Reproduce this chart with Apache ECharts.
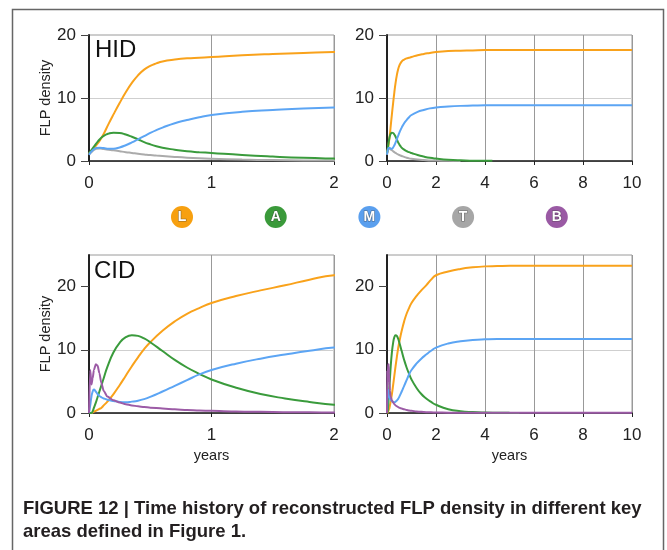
<!DOCTYPE html>
<html>
<head>
<meta charset="utf-8">
<script src="https://cdn.jsdelivr.net/npm/echarts@6/dist/echarts.min.js"></script>
<style>
html,body{margin:0;padding:0;background:#fff;}
#c{width:667px;height:550px;}
</style>
</head>
<body>
<div id="c"></div>
<script>
// ---------- DATA ----------
const seriesNames = ['L', 'A', 'M', 'T', 'B'];
const seriesColors = ['#F9A21B', '#3A9B3C', '#5CA5F4', '#ABABAB', '#9C5BA6'];
const legendColors = ['#F7A010', '#3A9A3A', '#5A9FEE', '#A6A6A6', '#9A5AA4'];

// HID (time in years)
const tHID = [0, 0.03, 0.06, 0.09, 0.12, 0.16, 0.2, 0.25, 0.3, 0.35, 0.4, 0.45, 0.5, 0.55, 0.6, 0.7, 0.8, 0.9, 1.0, 1.25, 1.5, 1.75, 2.0, 2.5, 3, 3.5, 4, 4.3, 5, 6, 7, 8, 9, 10];
const hidL = [1.2, 1.8, 2.5, 3.3, 4.3, 5.9, 7.4, 9.2, 10.9, 12.4, 13.6, 14.5, 15.1, 15.5, 15.8, 16.1, 16.3, 16.4, 16.5, 16.8, 17.0, 17.15, 17.3, 17.45, 17.5, 17.55, 17.6, 17.6, 17.6, 17.6, 17.6, 17.6, 17.6, 17.6];
const hidA = [1.2, 2.0, 2.8, 3.5, 4.0, 4.35, 4.5, 4.45, 4.2, 3.85, 3.45, 3.0, 2.65, 2.35, 2.1, 1.8, 1.55, 1.4, 1.27, 0.95, 0.7, 0.5, 0.38, 0.2, 0.1, 0.05, 0.03, 0.02, null, null, null, null, null, null];
const hidM = [1.0, 1.7, 2.05, 2.1, 2.05, 1.95, 1.95, 2.15, 2.5, 2.95, 3.45, 3.95, 4.45, 4.9, 5.3, 6.0, 6.5, 6.95, 7.3, 7.8, 8.1, 8.35, 8.5, 8.65, 8.75, 8.8, 8.85, 8.85, 8.85, 8.85, 8.85, 8.85, 8.85, 8.85];
const hidT = [1.0, 1.6, 1.95, 2.0, 1.9, 1.8, 1.7, 1.55, 1.4, 1.28, 1.15, 1.05, 0.95, 0.87, 0.8, 0.65, 0.52, 0.42, 0.35, 0.22, 0.14, 0.09, 0.06, 0.03, 0.01, null, null, null, null, null, null, null, null, null];

// CID (time in years)
const tCID = [0, 0.01, 0.02, 0.03, 0.04, 0.055, 0.07, 0.085, 0.1, 0.12, 0.15, 0.2, 0.25, 0.3, 0.35, 0.4, 0.45, 0.5, 0.6, 0.7, 0.8, 0.9, 1.0, 1.2, 1.4, 1.6, 1.8, 2.0, 2.5, 3, 3.5, 4, 4.5, 5, 5.4, 6, 7, 8, 9, 10];
const cidL = [0, 0, 0, 0.1, 0.2, 0.35, 0.5, 0.65, 0.8, 1.2, 1.8, 3.0, 4.4, 5.9, 7.4, 8.8, 10.1, 11.2, 13.0, 14.5, 15.7, 16.6, 17.4, 18.5, 19.4, 20.2, 21.1, 21.8, 22.4, 22.8, 23.05, 23.2, 23.25, 23.3, 23.3, 23.3, 23.3, 23.3, 23.3, 23.3];
const cidA = [0, 0, 0, 0.3, 0.8, 1.6, 2.5, 3.4, 4.3, 5.5, 7.3, 9.6, 11.1, 12.0, 12.3, 12.2, 11.8, 11.2, 9.8, 8.4, 7.2, 6.2, 5.3, 4.0, 3.0, 2.3, 1.75, 1.3, 0.6, 0.28, 0.14, 0.07, 0.04, 0.02, 0.01, null, null, null, null, null];
const cidM = [0, 1.2, 2.6, 3.4, 3.7, 3.4, 3.0, 2.7, 2.5, 2.3, 2.1, 1.9, 1.75, 1.7, 1.8, 1.95, 2.2, 2.55, 3.4, 4.3, 5.2, 6.1, 6.8, 7.8, 8.6, 9.25, 9.85, 10.35, 11.0, 11.35, 11.55, 11.65, 11.7, 11.7, 11.7, 11.7, 11.7, 11.7, 11.7, 11.7];
const cidB = [0, 6.8, 4.5, 5.5, 6.8, 7.7, 7.5, 6.3, 4.8, 3.5, 2.6, 2.0, 1.65, 1.4, 1.2, 1.05, 0.95, 0.85, 0.7, 0.58, 0.48, 0.4, 0.34, 0.25, 0.18, 0.13, 0.1, 0.08, 0.05, 0.03, 0.03, 0.02, 0.02, 0.02, 0.02, 0.02, 0.02, 0.02, 0.02, 0.02];

// axes / ticks
const xMaxShort = 2, xIntShort = 1;
const xMaxLong = 10, xIntLong = 2;
const yMaxHID = 20, yMaxCID = 25;
const yTickLabels = [0, 10, 20];
const regionLabels = ['HID', 'CID'];
const yName = 'FLP density';
const xName = 'years';
const captionLines = [
  'FIGURE 12 | Time history of reconstructed FLP density in different key',
  'areas defined in Figure 1.'
];

// ---------- BUILD ----------
const FONT = '"Liberation Sans", Arial, Helvetica, sans-serif';
function pairs(t, v) {
  const out = [];
  for (let i = 0; i < t.length; i++) if (v[i] !== null && v[i] !== undefined) out.push([t[i], v[i]]);
  return out;
}
const grids = [
  {left: 89, top: 35, width: 245, height: 126},
  {left: 387, top: 35, width: 245, height: 126},
  {left: 89, top: 255, width: 245, height: 158},
  {left: 387, top: 255, width: 245, height: 158}
].map(g => Object.assign({show: true, borderColor: '#9a9a9a', borderWidth: 1, backgroundColor: 'transparent', containLabel: false}, g));

function xAxis(idx, max, interval, showName) {
  return {
    type: 'value', gridIndex: idx, min: 0, max: max, interval: interval,
    name: showName ? xName : '', nameLocation: 'middle', nameGap: 35,
    nameTextStyle: {fontSize: 14.5, color: '#222', fontFamily: FONT},
    axisLine: {show: true, onZero: false, lineStyle: {color: '#222', width: 1.5}},
    axisTick: {show: true, length: 4, lineStyle: {color: '#222'}},
    axisLabel: {fontSize: 17, color: '#222', margin: 14, fontFamily: FONT},
    splitLine: {show: true, lineStyle: {color: '#999', width: 1}}
  };
}
function yAxis(idx, max, showName) {
  return {
    type: 'value', gridIndex: idx, min: 0, max: max, interval: 5,
    name: showName ? yName : '', nameLocation: 'middle', nameGap: 35, nameRotate: 90,
    nameTextStyle: {fontSize: 14.5, color: '#222', fontFamily: FONT},
    axisLine: {show: true, lineStyle: {color: '#222', width: 2}},
    axisTick: {show: true, length: 8, customValues: yTickLabels, lineStyle: {color: '#444'}},
    axisLabel: {fontSize: 17, color: '#222', margin: 13, fontFamily: FONT, customValues: yTickLabels,
      formatter: v => (yTickLabels.indexOf(v) >= 0 ? String(v) : '')},
    splitLine: {show: true, showMaxLine: false, lineStyle: {color: ['#9a9a9a', '#cfcfcf'], width: 1}}
  };
}

const hidData = [hidL, hidA, hidM, hidT];
const hidNames = ['L', 'A', 'M', 'T'];
const cidData = [cidL, cidA, cidM, cidB];
const cidNames = ['L', 'A', 'M', 'B'];

function mkSeries(g, name, t, arr, z) {
  const spiky = name === 'B';
  const s = {
    type: 'line', name: name, xAxisIndex: g, yAxisIndex: g,
    data: pairs(t, arr), showSymbol: false, smooth: spiky ? 0.25 : 0.5,
    lineStyle: {color: seriesColors[seriesNames.indexOf(name)], width: 2},
    itemStyle: {color: seriesColors[seriesNames.indexOf(name)]}, z: z
  };
  if (spiky) s.smoothMonotone = 'x';
  return s;
}

const series = [];
[0, 1].forEach(g => {
  hidData.forEach((arr, k) => series.push(mkSeries(g, hidNames[k], tHID, arr, hidNames[k] === 'T' ? 3 : 4)));
});
[2, 3].forEach(g => {
  cidData.forEach((arr, k) => series.push(mkSeries(g, cidNames[k], tCID, arr, 4)));
});

const graphic = [];
graphic.push({type: 'rect', shape: {x: 12.5, y: 9.5, width: 651, height: 600},
  style: {fill: 'none', stroke: '#666', lineWidth: 1.5}, silent: true});
// region labels
graphic.push({type: 'text', x: 95, y: 50, style: {text: regionLabels[0], font: '24px ' + FONT, fill: '#111', verticalAlign: 'middle'}, z: 100});
graphic.push({type: 'text', x: 94, y: 271, style: {text: regionLabels[1], font: '24px ' + FONT, fill: '#111', verticalAlign: 'middle'}, z: 100});
// legend badges
seriesNames.forEach((n, i) => {
  const cx = 182 + i * 93.7, cy = 217;
  graphic.push({type: 'circle', shape: {cx: cx, cy: cy, r: 11}, style: {fill: legendColors[i]}, z: 100});
  graphic.push({type: 'text', x: cx, y: cy + 0.5, style: {text: n, font: 'bold 14px ' + FONT, fill: '#fff',
    align: 'center', verticalAlign: 'middle', stroke: 'rgba(60,60,60,0.55)', lineWidth: 1.2}, z: 101});
});
// caption
captionLines.forEach((line, i) => {
  graphic.push({type: 'text', x: 23, y: 508.5 + i * 23.5, style: {text: line, font: 'bold 18.5px ' + FONT,
    fill: '#231f20', verticalAlign: 'middle'}, z: 100});
});

const chart = echarts.init(document.getElementById('c'), null, {renderer: 'canvas'});
chart.setOption({
  animation: false,
  backgroundColor: '#fff',
  grid: grids,
  xAxis: [xAxis(0, xMaxShort, xIntShort, false), xAxis(1, xMaxLong, xIntLong, false),
          xAxis(2, xMaxShort, xIntShort, true), xAxis(3, xMaxLong, xIntLong, true)],
  yAxis: [yAxis(0, yMaxHID, true), yAxis(1, yMaxHID, false), yAxis(2, yMaxCID, true), yAxis(3, yMaxCID, false)],
  series: series,
  graphic: graphic
});
</script>
</body>
</html>
